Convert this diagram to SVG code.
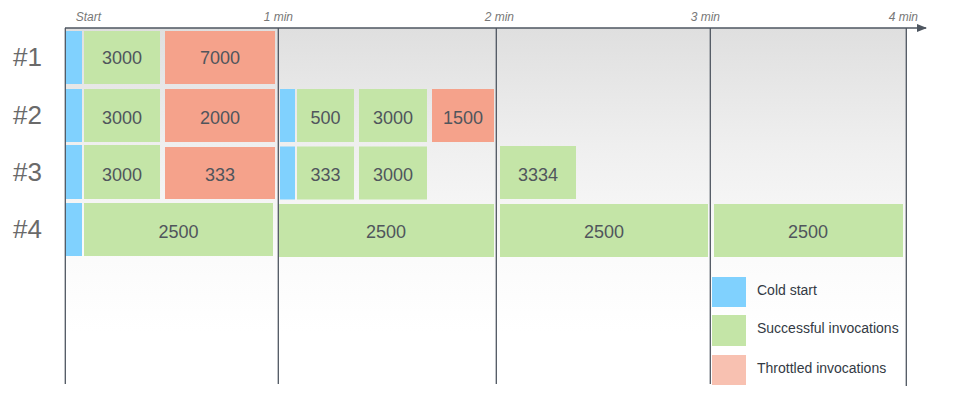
<svg xmlns="http://www.w3.org/2000/svg" width="956" height="405" viewBox="0 0 956 405">
<defs>
<linearGradient id="bg" x1="0" y1="0" x2="0" y2="1">
<stop offset="0" stop-color="#dfdfdf"/>
<stop offset="0.33" stop-color="#efefef"/>
<stop offset="0.65" stop-color="#fbfbfb"/>
<stop offset="0.85" stop-color="#ffffff"/>
<stop offset="1" stop-color="#ffffff"/>
</linearGradient>
<marker id="arr" markerWidth="10" markerHeight="8" refX="9" refY="4" orient="auto" markerUnits="userSpaceOnUse">
<path d="M0,0 L10,4 L0,8 Z" fill="#4e5660"/>
</marker>
<style>
.cold{fill:#80d1fe}
.ok{fill:#c4e5a7}
.thr{fill:#f5a28b}
.bt{font-family:"Liberation Sans",Arial,sans-serif;font-size:18px;fill:#50555c;text-anchor:middle}
.rl{font-family:"Liberation Sans",Arial,sans-serif;font-size:26px;fill:#6a6a6a}
.ax{font-family:"Liberation Sans",Arial,sans-serif;font-size:12px;font-style:italic;fill:#777;text-anchor:end}
.lg{font-family:"Liberation Sans",Arial,sans-serif;font-size:14px;fill:#333a44}
.grid{stroke:#4e5660;stroke-width:1.3;fill:none}
</style>
</defs>
<rect x="65" y="28" width="841" height="357" fill="url(#bg)"/>

<g id="axis-labels">
<text class="ax" x="101" y="21">Start</text>
<text class="ax" x="293" y="21">1 min</text>
<text class="ax" x="514" y="21">2 min</text>
<text class="ax" x="720" y="21">3 min</text>
<text class="ax" x="918" y="21">4 min</text>
</g>

<g id="row-labels">
<text class="rl" x="13" y="66">#1</text>
<text class="rl" x="13" y="124">#2</text>
<text class="rl" x="13" y="181">#3</text>
<text class="rl" x="13" y="238">#4</text>
</g>

<g id="row1">
<rect class="cold" x="65.5" y="31" width="16.5" height="53"/>
<rect class="ok" x="84" y="31" width="76" height="53"/><text class="bt" x="122" y="64">3000</text>
<rect class="thr" x="165" y="31" width="110" height="53"/><text class="bt" x="220" y="64">7000</text>
</g>

<g id="row2">
<rect class="cold" x="65.5" y="89" width="16.5" height="53"/>
<rect class="ok" x="84" y="89" width="76" height="53"/><text class="bt" x="122" y="124">3000</text>
<rect class="thr" x="165" y="89" width="110" height="53"/><text class="bt" x="220" y="124">2000</text>
<rect class="cold" x="280" y="89" width="15" height="53"/>
<rect class="ok" x="297" y="89" width="57" height="53"/><text class="bt" x="325.5" y="124">500</text>
<rect class="ok" x="359" y="89" width="68" height="53"/><text class="bt" x="393" y="124">3000</text>
<rect class="thr" x="432" y="89" width="62" height="53"/><text class="bt" x="463" y="124">1500</text>
</g>

<g id="row3">
<rect class="cold" x="65.5" y="145" width="16.5" height="54"/>
<rect class="ok" x="84" y="145" width="76" height="54"/><text class="bt" x="122" y="181">3000</text>
<rect class="thr" x="165" y="147" width="110" height="52"/><text class="bt" x="220" y="181">333</text>
<rect class="cold" x="280" y="146.5" width="15" height="53"/>
<rect class="ok" x="297" y="146.5" width="57" height="53"/><text class="bt" x="325.5" y="181">333</text>
<rect class="ok" x="359" y="146.5" width="68" height="53"/><text class="bt" x="393" y="181">3000</text>
<rect class="ok" x="500" y="146" width="76" height="53"/><text class="bt" x="538" y="181">3334</text>
</g>

<g id="row4">
<rect class="cold" x="65.5" y="203" width="16.5" height="53"/>
<rect class="ok" x="84" y="203" width="189" height="53"/><text class="bt" x="178.5" y="238">2500</text>
<rect class="ok" x="279" y="204" width="215" height="53"/><text class="bt" x="386" y="238">2500</text>
<rect class="ok" x="500" y="204" width="208" height="53"/><text class="bt" x="604" y="238">2500</text>
<rect class="ok" x="714" y="204" width="189" height="53"/><text class="bt" x="808" y="238">2500</text>
</g>

<g id="connectors">
<line class="grid" x1="65" y1="28" x2="926" y2="28" marker-end="url(#arr)"/>
<line class="grid" x1="65.3" y1="28" x2="65.3" y2="384"/>
<line class="grid" x1="278.3" y1="28" x2="278.3" y2="384"/>
<line class="grid" x1="496.3" y1="28" x2="496.3" y2="384"/>
<line class="grid" x1="710.3" y1="28" x2="710.3" y2="384"/>
<line class="grid" x1="906.3" y1="28" x2="906.3" y2="386"/>
</g>

<g id="legend">
<rect class="cold" x="712" y="277" width="34" height="30"/>
<text class="lg" x="757" y="295">Cold start</text>
<rect class="ok" x="712" y="315" width="34" height="31"/>
<text class="lg" x="757" y="333">Successful invocations</text>
<rect x="712" y="355" width="34" height="30" fill="#f8c1b1"/>
<text class="lg" x="757" y="373">Throttled invocations</text>
</g>
</svg>
